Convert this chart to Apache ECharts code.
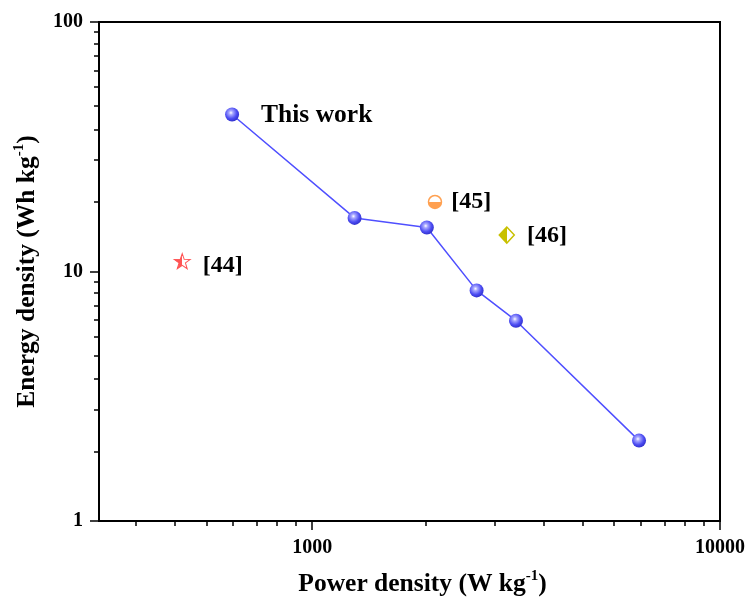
<!DOCTYPE html>
<html><head><meta charset="utf-8">
<script src="https://cdn.jsdelivr.net/npm/echarts@6/dist/echarts.min.js"></script>
<style>html,body{margin:0;padding:0;background:#fff}#c{width:746px;height:599px}</style>
</head><body><div id="c"></div>
<script>
// ---- data ----
const powerDensity = [636, 1270, 1910, 2530, 3160, 6330];
const energyDensity = [42.6, 16.4, 15.0, 8.4, 6.35, 2.1];
const ref44 = [480, 11.0];
const ref45 = [2000, 19.0];
const ref46 = [3000, 14.0];
const refLabels = ['[44]', '[45]', '[46]'];
const seriesLabel = 'This work';
const xMajorTicks = [1000, 10000];
const yMajorTicks = [1, 10, 100];
const xMinorTicks = [370, 460, 550, 640, 730, 820, 910, 1900, 2800, 3700, 4600, 5500, 6400, 7300, 8200, 9100];
const yMinorTicks = [1.9, 2.8, 3.7, 4.6, 5.5, 6.4, 7.3, 8.2, 9.1, 19, 28, 37, 46, 55, 64, 73, 82, 91];
const xTitle = 'Power density (W kg{sup|-1})';
const yTitle = 'Energy density (Wh kg{sup|-1})';

const FONT = '"Liberation Serif","Times New Roman",serif';
const chart = echarts.init(document.getElementById('c'), null, {renderer: 'canvas'});

function half(c, dir) {
  const g = dir === 'h' ? [0, 0, 1, 0] : [0, 1, 0, 0];
  return new echarts.graphic.LinearGradient(g[0], g[1], g[2], g[3], [
    {offset: 0, color: c}, {offset: 0.5, color: c},
    {offset: 0.5, color: '#ffffff'}, {offset: 1, color: '#ffffff'}
  ]);
}
const sphere = new echarts.graphic.RadialGradient(0.42, 0.38, 0.65, [
  {offset: 0, color: '#ffffff'},
  {offset: 0.22, color: '#a8a8ff'},
  {offset: 0.65, color: '#4c4cf2'},
  {offset: 1, color: '#2e2ec8'}
]);
const richTitle = {
  fontSize: 25.5, fontWeight: 'bold', fontFamily: FONT, color: '#000', lineHeight: 30,
  rich: {sup: {fontSize: 15, fontWeight: 'bold', fontFamily: FONT, color: '#000', verticalAlign: 'top', lineHeight: 16}}
};
const labelStyle = {fontSize: 24, fontWeight: 'bold', fontFamily: FONT, color: '#000'};
const G = {left: 99, right: 26, top: 22, bottom: 78};
const gridH = 599 - G.top - G.bottom, gridW = 746 - G.left - G.right;

chart.setOption({
  animation: false,
  backgroundColor: '#fff',
  grid: Object.assign({show: true, borderColor: '#000', borderWidth: 2, backgroundColor: 'transparent', containLabel: false, outerBoundsMode: 'none'}, G),
  xAxis: [{
    type: 'log', min: 300, max: 10000, position: 'bottom',
    axisLine: {lineStyle: {color: '#000', width: 2}},
    axisTick: {customValues: xMajorTicks, length: 9, lineStyle: {color: '#000', width: 1.5}},
    axisLabel: {customValues: xMajorTicks, formatter: v => String(v), margin: 17, fontSize: 20, fontWeight: 'bold', fontFamily: FONT, color: '#000'},
    splitLine: {show: false}, minorTick: {show: false},
    name: xTitle, nameLocation: 'middle', nameGap: 48,
    nameTextStyle: Object.assign({padding: [0, 0, 0, 26]}, richTitle)
  }, {
    type: 'log', min: 300, max: 10000, position: 'top', offset: -gridH,
    axisLine: {show: false},
    axisTick: {inside: true, customValues: xMinorTicks, length: 5, lineStyle: {color: '#000', width: 1.5}},
    axisLabel: {show: false}, splitLine: {show: false}
  }],
  yAxis: [{
    type: 'log', min: 1, max: 100, position: 'left',
    axisLine: {lineStyle: {color: '#000', width: 2}},
    axisTick: {customValues: yMajorTicks, length: 9, lineStyle: {color: '#000', width: 1.5}},
    axisLabel: {customValues: yMajorTicks, formatter: v => String(v), margin: 16, fontSize: 20, fontWeight: 'bold', fontFamily: FONT, color: '#000'},
    splitLine: {show: false}, minorTick: {show: false},
    name: yTitle, nameLocation: 'middle', nameGap: 57, nameRotate: 90,
    nameTextStyle: richTitle
  }, {
    type: 'log', min: 1, max: 100, position: 'right', offset: -gridW,
    axisLine: {show: false},
    axisTick: {inside: true, customValues: yMinorTicks, length: 5, lineStyle: {color: '#000', width: 1.5}},
    axisLabel: {show: false}, splitLine: {show: false}
  }],
  series: [{
    type: 'line', xAxisIndex: 0, yAxisIndex: 0,
    data: powerDensity.map((x, i) => {
      const d = {value: [x, energyDensity[i]]};
      if (i === 0) d.label = Object.assign({show: true, formatter: seriesLabel, position: 'right', distance: 22, offset: [0, 1]}, labelStyle, {fontSize: 25.5});
      return d;
    }),
    symbol: 'circle', symbolSize: 14, showSymbol: true,
    lineStyle: {color: '#4f4fff', width: 1.5},
    itemStyle: {color: sphere, borderWidth: 0},
    emphasis: {disabled: true}, z: 3
  }, {
    type: 'scatter', data: [ref44],
    symbol: 'path://M50,2 L61.8,36 L97.6,36.5 L69,58 L79.4,92.3 L50,71.8 L20.6,92.3 L31,58 L2.4,36.5 L38.2,36 Z',
    symbolSize: [16, 15],
    itemStyle: {color: half('#ff5555', 'h'), borderColor: '#ff5555', borderWidth: 1, opacity: 1},
    label: Object.assign({show: true, formatter: refLabels[0], position: 'right', distance: 12, offset: [0, 5]}, labelStyle),
    emphasis: {disabled: true}, z: 4
  }, {
    type: 'scatter', data: [ref45],
    symbol: 'circle', symbolSize: 13,
    itemStyle: {color: half('#ffa050', 'v'), borderColor: '#ffa050', borderWidth: 1.5, opacity: 1},
    label: Object.assign({show: true, formatter: refLabels[1], position: 'right', distance: 9, offset: [0, 0]}, labelStyle),
    emphasis: {disabled: true}, z: 4
  }, {
    type: 'scatter', data: [ref46],
    symbol: 'diamond', symbolSize: [15, 16],
    itemStyle: {color: half('#c8c000', 'h'), borderColor: '#c8c000', borderWidth: 1.5, opacity: 1},
    label: Object.assign({show: true, formatter: refLabels[2], position: 'right', distance: 12, offset: [0, 1]}, labelStyle),
    emphasis: {disabled: true}, z: 4
  }]
});
</script>
</body></html>
